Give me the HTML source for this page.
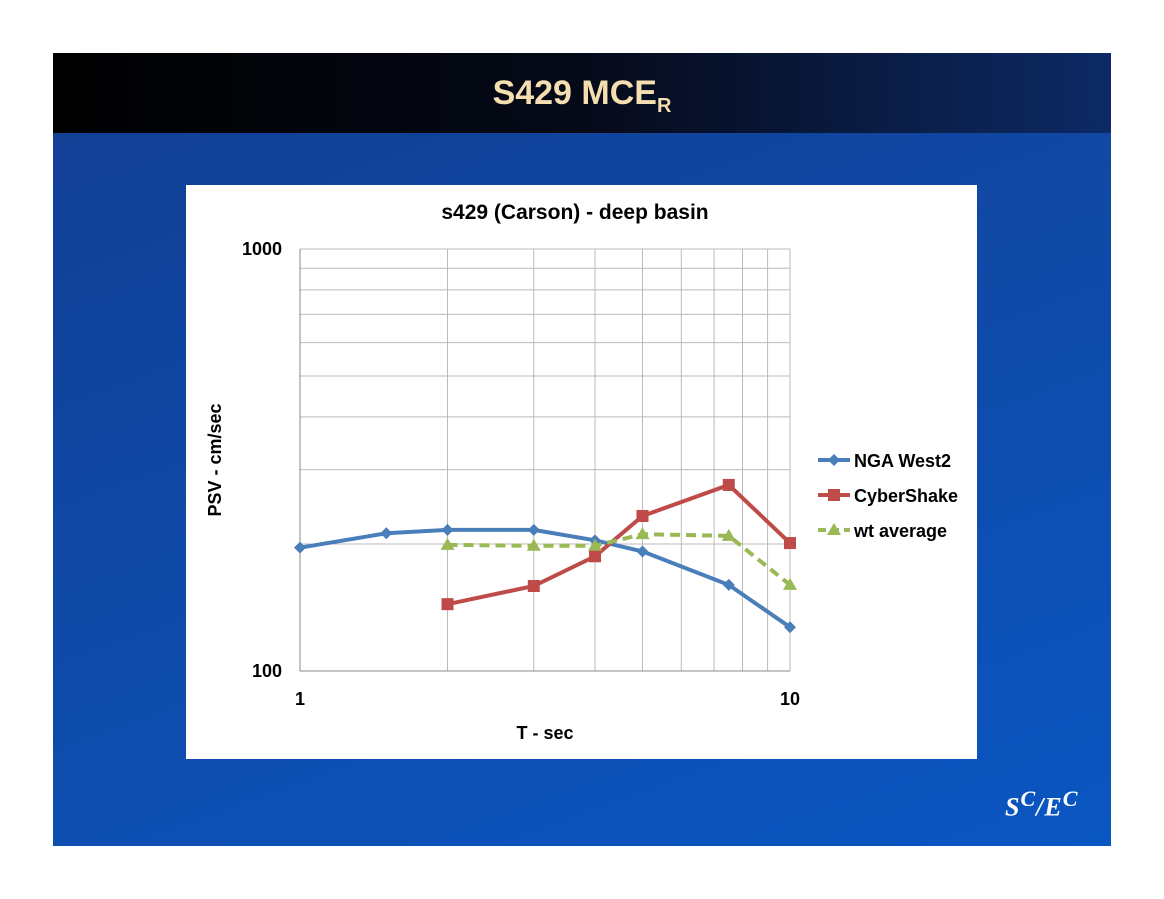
<!DOCTYPE html>
<html><head><meta charset="utf-8"><style>
body{margin:0;background:#fff;width:1164px;height:899px;position:relative;overflow:hidden;font-family:"Liberation Sans",sans-serif}
#slide{position:absolute;left:53px;top:53px;width:1058px;height:793px;background:linear-gradient(160deg,#123e92 0%,#0f4aa8 50%,#0a56c2 100%)}
#hdr{position:absolute;left:0;top:0;width:1058px;height:80px;background:linear-gradient(90deg,#000 0%,#050a18 50%,#0d2a66 100%)}
#title{position:absolute;left:0;width:1058px;top:21px;text-align:center;color:#f5deb0;font:bold 34px "Liberation Sans",sans-serif}
#title sub{font-size:20px}
#box{position:absolute;left:133px;top:132px;width:791px;height:574px;background:#fff}
#logo{position:absolute;left:952px;top:733px;color:#fff;font:italic bold 26px "Liberation Serif",serif;letter-spacing:1px}
</style></head><body>
<div id="slide">
<div id="hdr"><div id="title">S429 MCE<sub>R</sub></div></div>
<div id="box"></div>
<div id="logo">S<sup style="font-size:22px">C</sup>/E<sup style="font-size:22px">C</sup></div>
</div>
<svg id="chart" width="1164" height="899" style="position:absolute;left:0;top:0"></svg>
<script>
const periods=[1,1.5,2,3,4,5,7.5,10];
const ngaValues=[196,212,216,216,204,192,160,127];
const csPeriods=[2,3,4,5,7.5,10];
const csValues=[144,159,187,233,276,201];
const wtValues=[199,198,198,211,209,160];
const xTicks=[1,10];
const yTicks=[100,1000];
const X0=300,X1=790,Y0=671,Y1=249;
const sx=t=>X0+(Math.log10(t)-0)*(X1-X0);
const sy=v=>Y0-(Math.log10(v)-2)*(Y0-Y1);
const svg=document.getElementById('chart');
const NS='http://www.w3.org/2000/svg';
function mk(tag,attrs,parent){const e=document.createElementNS(NS,tag);for(const k in attrs)e.setAttribute(k,attrs[k]);(parent||svg).appendChild(e);return e;}
for(let d=1;d<=10;d++){const gx=mk('line',{x1:sx(d),x2:sx(d),y1:Y1,y2:Y0,stroke:'#bbb','stroke-width':1});

}
for(let d=100;d<=1000;d+=100){const gy=mk('line',{x1:X0,x2:X1,y1:sy(d),y2:sy(d),stroke:'#bbb','stroke-width':1});

}
mk('line',{x1:X0,x2:X0,y1:Y1,y2:Y0,stroke:'#888'});
mk('line',{x1:X0,x2:X1,y1:Y0,y2:Y0,stroke:'#888'});
function txt(s,x,y,o,name){const t=mk('text',Object.assign({x:x,y:y,'font-family':'Liberation Sans, sans-serif','font-weight':'bold','font-size':18,fill:'#000'},o||{}));t.textContent=s;

return t;}
xTicks.forEach(t=>txt(String(t),sx(t),705,{'text-anchor':'middle'},'x-tick-label'));
yTicks.forEach(v=>txt(String(v),282,sy(v)+6,{'text-anchor':'end'},'y-tick-label'));
txt('s429 (Carson) - deep basin',575,219,{'text-anchor':'middle','font-size':21},'chart-title');
txt('T - sec',545,739,{'text-anchor':'middle'},'x-axis-title');
txt('PSV - cm/sec',221,460,{'text-anchor':'middle',transform:'rotate(-90 221 460)'},'y-axis-title');
function series(xs,vs,color,dash,marker,name){
 const pts=xs.map((t,i)=>sx(t)+','+sy(vs[i])).join(' ');
 const pl=mk('polyline',{points:pts,fill:'none',stroke:color,'stroke-width':4,'stroke-dasharray':dash||'none'});
 
 
 xs.forEach((t,i)=>{const m=drawMarker(sx(t),sy(vs[i]),marker,color);
 
 });
}
function drawMarker(x,y,m,c){
 if(m==='d')return mk('polygon',{points:`${x},${y-6} ${x+6},${y} ${x},${y+6} ${x-6},${y}`,fill:c});
 if(m==='s')return mk('rect',{x:x-6,y:y-6,width:12,height:12,fill:c});
 return mk('polygon',{points:`${x},${y-7} ${x+7},${y+5} ${x-7},${y+5}`,fill:c});
}
series(periods,ngaValues,'#4a7ebb',null,'d','nga-west2');
series(csPeriods,csValues,'#be4b48',null,'s','cybershake');
series(csPeriods,wtValues,'#98b954','10,6','t','wt-average');
const leg=[['NGA West2','#4a7ebb','d',null],['CyberShake','#be4b48','s',null],['wt average','#98b954','t','8,5']];
leg.forEach((l,i)=>{const y=460+i*35;
 const ln=mk('line',{x1:818,x2:850,y1:y,y2:y,stroke:l[1],'stroke-width':4,'stroke-dasharray':l[3]||'none'});
 
 
 drawMarker(834,y,l[2],l[1]);
 txt(l[0],854,y+7,{},'legend-label');});
</script>
</body></html>
